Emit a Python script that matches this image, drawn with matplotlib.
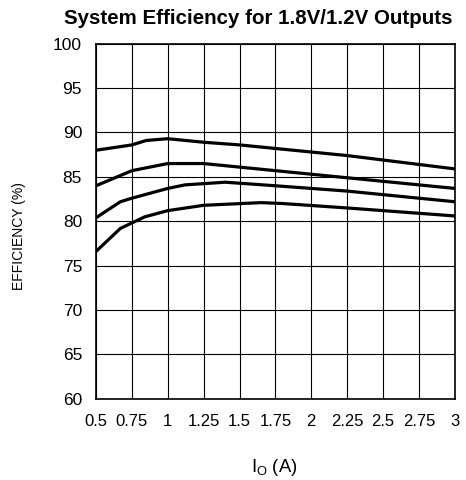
import matplotlib
matplotlib.use("Agg")
import matplotlib.pyplot as plt
import numpy as np

plt.rcParams['font.family'] = ['Liberation Sans', 'DejaVu Sans']

# Data
x1 = [0.5, 0.75, 0.85, 1.0, 1.25, 1.5, 1.75, 2.0, 2.25, 2.5, 2.75, 3.0]
y1 = [88.0, 88.6, 89.1, 89.3, 88.9, 88.6, 88.2, 87.8, 87.4, 86.9, 86.4, 85.9]

x2 = [0.5, 0.75, 1.0, 1.25, 1.5, 1.75, 2.0, 2.25, 2.5, 2.75, 3.0]
y2 = [84.0, 85.7, 86.5, 86.5, 86.1, 85.7, 85.3, 84.9, 84.5, 84.1, 83.7]

x3 = [0.5, 0.67, 0.75, 1.0, 1.12, 1.4, 1.75, 2.0, 2.25, 2.5, 2.75, 3.0]
y3 = [80.4, 82.2, 82.6, 83.7, 84.1, 84.4, 84.0, 83.7, 83.4, 83.0, 82.6, 82.2]

x4 = [0.5, 0.67, 0.84, 1.0, 1.25, 1.65, 1.8, 2.25, 2.5, 2.75, 3.0]
y4 = [76.6, 79.2, 80.5, 81.2, 81.8, 82.1, 82.0, 81.5, 81.2, 80.9, 80.6]

xticks = [0.5, 0.75, 1, 1.25, 1.5, 1.75, 2, 2.25, 2.5, 2.75, 3]
xticklabels = ["0.5", "0.75", "1", "1.25", "1.5", "1.75", "2", "2.25", "2.5", "2.75", "3"]
yticks = [60, 65, 70, 75, 80, 85, 90, 95, 100]

fig = plt.figure(figsize=(4.66, 4.80), dpi=100)
ax = fig.add_axes([0.206, 0.169, 0.770, 0.740])

for xs, ys in [(x1, y1), (x2, y2), (x3, y3), (x4, y4)]:
    ax.plot(xs, ys, color='black', lw=2.3, solid_joinstyle='miter', zorder=3)

ax.set_xlim(0.5, 3)
ax.set_ylim(60, 100)
ax.set_xticks(xticks)
ax.set_xticklabels(xticklabels)
ax.set_yticks(yticks)
ax.grid(True, color='black', lw=0.8)
ax.tick_params(axis='x', length=0, labelsize=12, pad=11)
ax.tick_params(axis='y', length=0, labelsize=12.5, pad=10)
for s in ax.spines.values():
    s.set_linewidth(1.2)

fig.text(0.554, 0.962, "System Efficiency for 1.8V/1.2V Outputs", ha='center', va='center',
         fontsize=14.8, fontweight='bold')
fig.text(0.04, 0.508, "EFFICIENCY (%)", rotation=90, ha='center', va='center', fontsize=10)
fig.text(0.588, 0.027, r"I$_\mathregular{O}$ (A)", ha='center', va='center', fontsize=13.2)

fig.savefig("out.png", dpi=100)
